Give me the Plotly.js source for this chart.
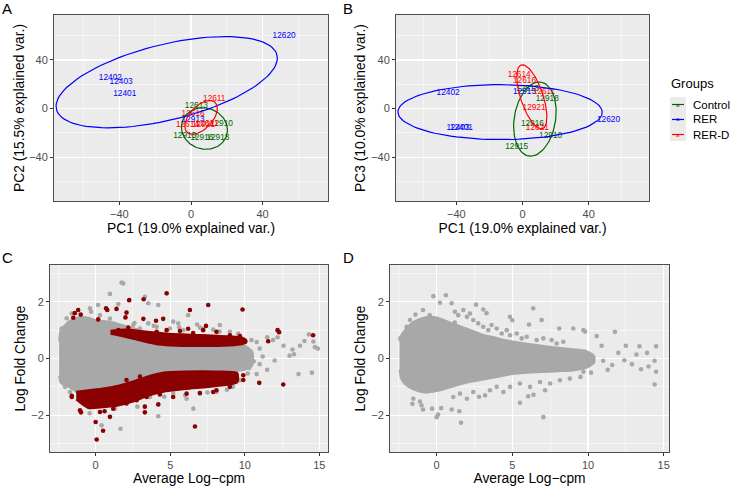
<!DOCTYPE html>
<html>
<head>
<meta charset="utf-8">
<script src="https://cdn.plot.ly/plotly-3.0.1.min.js"></script>
<style>
  html, body { margin: 0; padding: 0; background: #fff; }
  #chart { width: 732px; height: 488px; }
</style>
</head>
<body>
<div id="chart"></div>
<script>
// ---- PCA scores (panels A and B) ----
const sampleIds = ['12613', '12910', '12915', '12916', '12918',
                   '12620', '12402', '12403', '12401', '12913',
                   '12611', '12614', '12616', '12921', '12621'];
const sampleGroups = ['Control', 'Control', 'Control', 'Control', 'Control',
                      'RER', 'RER', 'RER', 'RER', 'RER',
                      'RER-D', 'RER-D', 'RER-D', 'RER-D', 'RER-D'];
const pc1 = [3, 17, -3.5, 6, 15,   52, -45, -39, -37, 1.2,   13, -2, 1.2, 7, 9];
const pc2 = [2, -13, -22.5, -24.5, -24,   59.4, 25, 21.6, 11.7, -9,   7.9, -13.1, -4.7, -13.1, -13];
const pc3 = [16, -22.8, -31.5, -12.9, 8.2,   -9, 13, -16, -16, 13.4,   13.4, 27.4, 22.7, 0.5, -15.6];

const groupNames = ['Control', 'RER', 'RER-D'];
const groupColors = ['#006400', '#0000FF', '#FF0000'];
const ellipseProb = 0.68;

// ---- MA plot C: dense cloud envelopes + isolated points ----
const cCloudX  = [-2.45, -2.35, -2.1, -1.8, -1.2, -0.5, 0, 1, 2, 3, 4, 5, 7, 9, 10, 10.5];
const cCloudHi = [0.6, 1.0, 1.15, 1.3, 1.45, 1.45, 1.35, 1.3, 1.15, 1.0, 0.8, 0.6, 0.55, 0.5, 0.45, 0.25];
const cCloudLo = [-0.6, -0.85, -0.95, -1.0, -1.2, -1.25, -1.2, -1.1, -0.95, -0.8, -0.6, -0.5, -0.45, -0.45, -0.4, -0.25];

const cUpX  = [1.0, 2.0, 3.0, 4.0, 5.0, 7.0, 9.0, 9.8, 10.1];
const cUpHi = [0.98, 1.02, 0.97, 0.92, 0.87, 0.83, 0.78, 0.74, 0.65];
const cUpLo = [0.87, 0.76, 0.63, 0.51, 0.46, 0.44, 0.46, 0.5, 0.56];

const cDnX  = [-1.3, -0.5, 0.5, 1.5, 2.5, 3.5, 4.5, 6, 8, 9.5];
const cDnHi = [-1.17, -1.12, -1.06, -0.96, -0.81, -0.63, -0.5, -0.46, -0.46, -0.51];
const cDnLo = [-1.45, -1.75, -1.72, -1.66, -1.52, -1.32, -1.18, -1.08, -0.98, -0.84];

const cGrayX = [1.74, 1.85, 0.96, 0.17, 1.52, 3.3, 3.53, 4.2, 6.2, 5.2, 6.8, -0.38, -2.28, 10.45, 10.8, 11.0, 11.5, 11.9,
                12.2, 12.6, 13.2, 13.3, 13.7, 14.0, 14.3, 14.7, 14.6, 13.0, 12.0, 11.2, 10.6, 10.3, 10.8, 11.0, 11.5, 13.6,
                14.5, 14.9, 6.55, 4.2, 1.67, 0.4, -0.4, 1.3, 2.6, 3.9, 5.6, 7.2, 8.3, 2.8, 4.6, 6.0, 7.5, 8.8,
                2.52, 2.97, 3.53, 4.09, 4.98, 5.54, 5.87, 6.99, 7.88, 8.33, 9.0, 9.56,
                3.64, 5.2, 6.1, 6.99, 8.1, 9.2, 9.67, 10.2,
                -1.94, -1.6, -2.05, -1.72, -0.3, 0.29, 0.96];
const cGrayY = [2.68, 2.65, 2.28, 1.89, 1.92, 2.18, 1.95, 1.89, 1.53, 1.3, 1.2, 1.77, 1.06, 0.65, 0.58, 0.35, 0.75, 0.65,
                0.75, 0.45, 0.32, 0.15, 0.45, 0.62, 0.85, 0.4, 0.6, 0.1, -0.07, 0.07, -0.1, -0.33, -0.55, -0.2, -0.4, -0.55,
                -0.5, 0.35, -1.77, -2.04, -2.48, -2.36, -1.93, -1.77, 1.25, 1.15, 1.1, 1.05, 0.95, -1.7, -1.35, -1.3, -1.2, -1.1,
                1.18, 1.06, 1.24, 1.12, 1.06, 1.24, 1.0, 1.09, 1.02, 1.18, 0.94, 0.88,
                -1.36, -1.24, -1.42, -1.24, -1.18, -1.0, -0.77, -0.53,
                1.42, 1.59, -1.0, -1.18, 1.65, 1.53, 1.41];
const cRedX = [4.76, 2.25, 3.22, 7.55, 9.85, 6.32, 2.07, 0.7, 0.78, -1.17, -1.4, -1.5, -1.0, 0.17, 4.53, 4.05, 3.2, 6.2,
               7.4, 12.2, 12.3, 11.57, 14.58, 9.9, 9.9, 10.97, 12.58, 7.88, 6.66, 3.3, 3.3, 4.2, 0.07, 0.0, 0.5, 0.96,
               -0.98, -1.6, 0.6, 1.4, 2.0,
               1.52, 2.19, 4.09, 4.76, 5.65, 6.54, 7.21, 8.1, 9.0, 9.67,
               -1.05, -0.38, 0.29, 1.18, 2.07, 2.75, 3.42, 4.31, 5.2, 6.1, 6.99, 8.1, 9.0, -1.6, 2.07, 2.97];
const cRedY = [2.3, 2.06, 2.09, 1.89, 1.73, 1.71, 1.62, 1.77, 1.71, 1.71, 1.6, 1.44, 1.55, 1.38, 1.4, 1.33, 1.4, 1.05,
               1.15, 1.0, 0.93, 0.61, 0.82, -0.59, -0.76, -0.86, -0.92, -1.18, -2.4, -1.9, -1.7, -1.62, -2.86, -2.24, -2.55, -2.06,
               -1.9, -1.32, -1.86, 1.75, 1.45,
               1.0, 1.09, 0.94, 1.0, 0.97, 0.9, 1.0, 0.94, 0.82, 0.79,
               -1.83, -1.71, -1.89, -1.77, -1.59, -1.47, -1.36, -1.27, -1.36, -1.24, -1.22, -1.12, -1.0, -1.36, -0.76, -0.64];

// ---- MA plot D ----
const dCloudX  = [-2.45, -2.35, -2.1, -1.5, -0.8, 0, 1, 2, 3, 4, 5, 6, 7, 8, 9, 9.8, 10.4];
const dCloudHi = [0.6, 0.8, 1.0, 1.3, 1.45, 1.45, 1.25, 1.05, 0.85, 0.72, 0.6, 0.52, 0.45, 0.38, 0.33, 0.28, 0.1];
const dCloudLo = [-0.4, -0.7, -0.9, -1.1, -1.2, -1.15, -1.0, -0.85, -0.75, -0.65, -0.55, -0.5, -0.48, -0.45, -0.42, -0.35, -0.15];

const dGrayX = [-0.22, 0.61, 0.22, 0.99, 2.6, 3.08, 3.3, 6.38, 4.84, 5.0, 6.94, 6.1, 8.1, 9.03, 9.7, 9.8, 10.57, 11.78,
                12.5, 13.4, 14.5, 13.9, 13.2, 12.4, 12.9, 13.5, 14.5, 14.4, 14.0, 14.4, 11.6, 11.0, 12.0, 7.16, 7.05, 5.5,
                6.05, 6.4, 3.2, 2.8, 1.61, 0.0, 0.1, -0.3, 0.3, -1.54, -1.0, -1.1, -1.6, -0.9, 1.0, 1.5, -2.2, -2.4,
                -2.0, -1.4, 1.2, 10.9, 11.3, 10.2,
                1.21, 1.43, 1.76, 2.0, 2.2, 2.42, 2.75, 3.08, 3.41, 3.63, 3.97, 4.3, 4.63, 4.85, 5.29, 5.62, 5.95, 6.61,
                7.05, 7.6, 7.93, 8.37,
                1.1, 1.54, 2.0, 2.42, 3.52, 3.97, 4.41, 4.85, 5.5, 6.17, 6.83, 7.5, 8.15, 8.8, 9.5, 9.7,
                -1.98, -1.76, -0.9, -0.46, -1.65, -1.98, -2.2];
const dGrayY = [2.2, 2.23, 1.97, 1.95, 1.9, 1.73, 1.6, 1.77, 1.47, 1.35, 1.36, 1.2, 1.06, 1.06, 1.0, 0.95, 0.79, 0.94,
                0.45, 0.43, 0.43, 0.2, 0.14, -0.06, -0.2, -0.38, -0.47, -0.92, -0.28, -0.08, -0.23, -0.08, 0.2, -1.12, -2.07, -1.56,
                -1.33, -1.28, -1.3, -1.35, -2.27, -2.07, -1.98, -1.77, -1.75, -1.42, -1.65, -1.52, -1.6, -1.8, -1.8, -1.86, 0.71, 0.71,
                0.41, 1.55, 1.27, 0.45, -0.4, -0.5,
                1.65, 1.53, 1.71, 1.47, 1.59, 1.36, 1.24, 1.12, 1.0, 1.18, 1.06, 0.88, 1.0, 0.82, 0.88, 0.71, 0.77, 0.65,
                0.71, 0.65, 0.53, 0.59,
                -1.36, -1.24, -1.42, -1.18, -1.12, -1.0, -1.18, -1.0, -0.88, -1.0, -0.83, -0.88, -0.77, -0.71, -0.65, -0.47,
                1.12, 1.36, 1.71, 1.53, -1.0, -0.77, -0.53];

const GRAY = '#A8A8A8';
const DARKRED = '#8B0000';
const FONT = 'Liberation Sans, Arial, sans-serif';
const W = 732, H = 488;

// same recipe as ggbiplot: normal ellipse from group mean and covariance
function ellipse(xs, ys) {
  const n = xs.length;
  const mx = xs.reduce((a, b) => a + b, 0) / n;
  const my = ys.reduce((a, b) => a + b, 0) / n;
  let sxx = 0, syy = 0, sxy = 0;
  for (let i = 0; i < n; i++) {
    sxx += (xs[i] - mx) ** 2;
    syy += (ys[i] - my) ** 2;
    sxy += (xs[i] - mx) * (ys[i] - my);
  }
  sxx /= n - 1; syy /= n - 1; sxy /= n - 1;
  const r11 = Math.sqrt(sxx), r12 = sxy / r11, r22 = Math.sqrt(syy - r12 * r12);
  const ed = Math.sqrt(-2 * Math.log(1 - ellipseProb));
  const ex = [], ey = [];
  for (let k = 0; k <= 100; k++) {
    const t = -Math.PI + 2 * Math.PI * k / 100;
    ex.push(mx + ed * Math.cos(t) * r11);
    ey.push(my + ed * (Math.cos(t) * r12 + Math.sin(t) * r22));
  }
  return { x: ex, y: ey };
}

function pcaTraces(ys, xa, ya) {
  let out = [];
  groupNames.forEach((g, gi) => {
    const idx = sampleGroups.map((s, i) => s === g ? i : -1).filter(i => i >= 0);
    out.push({
      x: idx.map(i => pc1[i]), y: idx.map(i => ys[i]), text: idx.map(i => sampleIds[i]),
      type: 'scatter', mode: 'text', textposition: 'middle center',
      textfont: { family: FONT, size: 8.3, color: groupColors[gi] },
      xaxis: xa, yaxis: ya, hoverinfo: 'skip', showlegend: false
    });
  });
  groupNames.forEach((g, gi) => {
    const idx = sampleGroups.map((s, i) => s === g ? i : -1).filter(i => i >= 0);
    const e = ellipse(idx.map(i => pc1[i]), idx.map(i => ys[i]));
    out.push({
      x: e.x, y: e.y, type: 'scatter', mode: 'lines',
      line: { color: groupColors[gi], width: 1.2 },
      xaxis: xa, yaxis: ya, hoverinfo: 'skip', showlegend: false
    });
  });
  return out;
}

function band(xs, hi, lo, color, xa, ya) {
  return {
    x: xs.concat(xs.slice().reverse()),
    y: hi.concat(lo.slice().reverse()),
    type: 'scatter', mode: 'lines', fill: 'toself', fillcolor: color,
    line: { color: color, width: 2, shape: 'spline', smoothing: 0.6 },
    xaxis: xa, yaxis: ya, hoverinfo: 'skip', showlegend: false
  };
}

function dots(xs, ys, color, xa, ya) {
  return {
    x: xs, y: ys, type: 'scatter', mode: 'markers',
    marker: { color: color, size: 4.6, line: { width: 0 } },
    xaxis: xa, yaxis: ya, hoverinfo: 'skip', showlegend: false
  };
}

const data = []
  .concat(pcaTraces(pc2, 'x', 'y'))
  .concat(pcaTraces(pc3, 'x2', 'y2'))
  .concat([
    band(cCloudX, cCloudHi, cCloudLo, GRAY, 'x3', 'y3'),
    dots(cGrayX, cGrayY, GRAY, 'x3', 'y3'),
    band(cUpX, cUpHi, cUpLo, DARKRED, 'x3', 'y3'),
    band(cDnX, cDnHi, cDnLo, DARKRED, 'x3', 'y3'),
    dots(cRedX, cRedY, DARKRED, 'x3', 'y3'),
    band(dCloudX, dCloudHi, dCloudLo, GRAY, 'x4', 'y4'),
    dots(dGrayX, dGrayY, GRAY, 'x4', 'y4')
  ]);

function axis(extra) {
  return Object.assign({
    showgrid: true, gridcolor: '#FFFFFF', gridwidth: 1.1,
    zeroline: false, showline: true, mirror: true, linecolor: '#4D4D4D', linewidth: 1,
    ticks: 'outside', ticklen: 3, tickcolor: '#333333', tickwidth: 1,
    tickfont: { family: FONT, size: 11, color: '#4D4D4D' },
    fixedrange: true
  }, extra);
}
function title(text, standoff) {
  return { text: text, standoff: standoff, font: { family: FONT, size: 13.8, color: '#000000' } };
}
const px = v => v / W;
const py = v => 1 - v / H;

const pcaX = { range: [-76.5, 76.5], tick0: 0, dtick: 40,
               minor: { tick0: 0, dtick: 20, showgrid: true, gridcolor: '#FFFFFF', gridwidth: 0.5 } };
const pcaY = { range: [-76, 77], tick0: 0, dtick: 40,
               minor: { tick0: 0, dtick: 20, showgrid: true, gridcolor: '#FFFFFF', gridwidth: 0.5 } };
const maX = { tick0: 0, dtick: 5,
              minor: { tick0: 0, dtick: 2.5, showgrid: true, gridcolor: '#FFFFFF', gridwidth: 0.5 } };
const maY = { range: [-3.3, 3.3], tick0: 0, dtick: 2,
              minor: { tick0: 0, dtick: 1, showgrid: true, gridcolor: '#FFFFFF', gridwidth: 0.5 } };

const annotations = [
  ['A', 7, 9], ['B', 348, 9], ['C', 7, 257], ['D', 348, 257]
].map(p => ({
  text: p[0], x: px(p[1]), y: py(p[2]), xref: 'paper', yref: 'paper', showarrow: false,
  xanchor: 'center', yanchor: 'middle',
  font: { family: FONT, size: 15, color: '#000000' }
}));

// legend drawn by hand, ggplot style
annotations.push({
  text: 'Groups', x: px(669), y: py(84), xref: 'paper', yref: 'paper', xanchor: 'left', yanchor: 'middle',
  showarrow: false, font: { family: FONT, size: 13, color: '#000000' }
});
const shapes = [{
  type: 'rect', xref: 'paper', yref: 'paper', x0: px(670), x1: px(686), y0: py(97), y1: py(141),
  fillcolor: '#EBEBEB', line: { width: 0 }, layer: 'below'
}];
groupNames.forEach((g, i) => {
  const yy = 104.5 + 15 * i;
  shapes.push({
    type: 'line', xref: 'paper', yref: 'paper', x0: px(672), x1: px(684), y0: py(yy), y1: py(yy),
    line: { color: groupColors[i], width: 1.2 }
  });
  annotations.push({
    text: 'a', x: px(678), y: py(yy), xref: 'paper', yref: 'paper', showarrow: false,
    xanchor: 'center', yanchor: 'middle',
    font: { family: FONT, size: 6, color: groupColors[i] }
  });
  annotations.push({
    text: g, x: px(691), y: py(yy), xref: 'paper', yref: 'paper', xanchor: 'left', yanchor: 'middle',
    showarrow: false, font: { family: FONT, size: 11.5, color: '#000000' }
  });
});

const layout = {
  width: W, height: H,
  margin: { l: 0, r: 0, t: 0, b: 0 },
  paper_bgcolor: '#FFFFFF',
  plot_bgcolor: '#EBEBEB',
  showlegend: false,
  font: { family: FONT },
  xaxis:  axis(Object.assign({ domain: [px(54), px(328)], anchor: 'y',  title: title('PC1 (19.0% explained var.)', 4) }, pcaX)),
  yaxis:  axis(Object.assign({ domain: [py(201), py(15)], anchor: 'x',  title: title('PC2 (15.5% explained var.)', 1) }, pcaY)),
  xaxis2: axis(Object.assign({ domain: [px(396), px(649)], anchor: 'y2', title: title('PC1 (19.0% explained var.)', 4) }, pcaX)),
  yaxis2: axis(Object.assign({ domain: [py(201), py(15)], anchor: 'x2', title: title('PC3 (10.0% explained var.)', 2) }, pcaY)),
  xaxis3: axis(Object.assign({ domain: [px(50), px(328)], anchor: 'y3', range: [-3.06, 15.58], title: title('Average Log\u2212cpm', 3) }, maX)),
  yaxis3: axis(Object.assign({ domain: [py(452), py(265)], anchor: 'x3', title: title('Log Fold Change', 2) }, maY)),
  xaxis4: axis(Object.assign({ domain: [px(390), px(669)], anchor: 'y4', range: [-3.08, 15.35], title: title('Average Log\u2212cpm', 3) }, maX)),
  yaxis4: axis(Object.assign({ domain: [py(452), py(265)], anchor: 'x4', title: title('Log Fold Change', 2) }, maY)),
  annotations: annotations,
  shapes: shapes
};

Plotly.newPlot('chart', data, layout, { staticPlot: true, displayModeBar: false });
</script>
</body>
</html>
